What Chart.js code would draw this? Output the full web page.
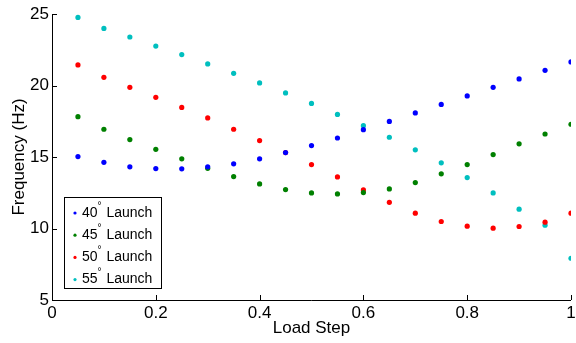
<!DOCTYPE html>
<html lang="en">
<head>
  <meta charset="UTF-8">
  <title>Frequency vs Load Step</title>
  <script src="https://cdn.jsdelivr.net/npm/chart.js"></script>
  <style>
    html, body { margin: 0; padding: 0; background: #fff; }
    #wrap { width: 576px; height: 343px; position: relative; }
  </style>
</head>
<body>
  <div id="wrap"><canvas id="chart"></canvas></div>

  <script>
    // data
    const loadSteps = [0.05, 0.1, 0.15, 0.2, 0.25, 0.3, 0.35, 0.4, 0.45, 0.5,
                       0.55, 0.6, 0.65, 0.7, 0.75, 0.8, 0.85, 0.9, 0.95, 1.0];
    const launch40 = [15.03, 14.63, 14.31, 14.19, 14.17, 14.31, 14.52, 14.87, 15.31, 15.80,
                      16.33, 16.91, 17.49, 18.08, 18.68, 19.27, 19.87, 20.46, 21.06, 21.65];
    const launch45 = [17.82, 16.94, 16.22, 15.54, 14.87, 14.21, 13.63, 13.12, 12.72, 12.49,
                      12.42, 12.51, 12.77, 13.21, 13.82, 14.47, 15.17, 15.92, 16.61, 17.29];
    const launch50 = [21.44, 20.57, 19.87, 19.17, 18.47, 17.73, 16.94, 16.15, 15.31, 14.47,
                      13.61, 12.70, 11.83, 11.07, 10.49, 10.16, 10.02, 10.14, 10.44, 11.07];
    const launch55 = [24.76, 23.99, 23.39, 22.76, 22.16, 21.51, 20.85, 20.18, 19.48, 18.75,
                      17.98, 17.19, 16.38, 15.50, 14.59, 13.56, 12.49, 11.35, 10.23, 7.92];
    const angles = ['40', '45', '50', '55'];
    const colors = ['#0000ff', '#008000', '#ff0000', '#00bfbf'];
    const xTicks = [0, 0.2, 0.4, 0.6, 0.8, 1];
    const yTicks = [5, 10, 15, 20, 25];

    const FONT = '"Liberation Sans", Arial, sans-serif';

    const series = [launch40, launch45, launch50, launch55];
    const datasets = series.map(function (vals, i) {
      return {
        label: angles[i] + '° Launch',
        data: vals.map(function (v, j) { return { x: loadSteps[j], y: v }; }),
        backgroundColor: colors[i],
        borderColor: colors[i],
        pointRadius: 2.6,
        pointBorderWidth: 0
      };
    });

    // axis lines + inward tick marks, like the original figure
    const axesPlugin = {
      id: 'axes',
      afterDatasetsDraw(chart) {
        const ctx = chart.ctx, a = chart.chartArea;
        const xs = chart.scales.x, ys = chart.scales.y;
        ctx.save();
        ctx.strokeStyle = '#000';
        ctx.lineWidth = 1;
        ctx.beginPath();
        ctx.moveTo(a.left + 0.5, a.top);
        ctx.lineTo(a.left + 0.5, a.bottom + 0.5);
        ctx.lineTo(a.right, a.bottom + 0.5);
        xTicks.forEach(function (t) {
          const px = Math.round(xs.getPixelForValue(t)) + 0.5;
          ctx.moveTo(px, a.bottom);
          ctx.lineTo(px, a.bottom - 5);
        });
        yTicks.forEach(function (t) {
          const py = Math.round(ys.getPixelForValue(t)) + 0.5;
          ctx.moveTo(a.left, py);
          ctx.lineTo(a.left + 5, py);
        });
        ctx.stroke();
        ctx.restore();
      }
    };

    // legend box inside the plot, degree sign as superscript
    const legendPlugin = {
      id: 'boxLegend',
      afterDraw(chart) {
        const ctx = chart.ctx;
        const x0 = 64, y0 = 197, w = 97, h = 91;
        ctx.save();
        ctx.fillStyle = '#fff';
        ctx.fillRect(x0, y0, w, h);
        ctx.strokeStyle = '#000';
        ctx.lineWidth = 1;
        ctx.strokeRect(x0 + 0.5, y0 + 0.5, w, h);
        chart.data.datasets.forEach(function (ds, i) {
          const cy = 213 + i * 22.2;
          ctx.fillStyle = ds.backgroundColor;
          ctx.beginPath();
          ctx.arc(75, cy, 1.6, 0, Math.PI * 2);
          ctx.fill();
          const parts = ds.label.split('°');
          ctx.fillStyle = '#000';
          ctx.textBaseline = 'middle';
          ctx.font = '14px ' + FONT;
          let tx = 82;
          ctx.fillText(parts[0], tx, cy);
          tx += ctx.measureText(parts[0]).width;
          ctx.font = '10px ' + FONT;
          ctx.fillText('°', tx, cy - 7);
          tx += ctx.measureText('°').width + 1;
          ctx.font = '14px ' + FONT;
          ctx.fillText(parts[1], tx, cy);
        });
        ctx.restore();
      }
    };

    new Chart(document.getElementById('chart'), {
      type: 'scatter',
      data: { datasets: datasets },
      options: {
        responsive: true,
        maintainAspectRatio: false,
        animation: false,
        layout: { padding: { top: 14, right: 0, left: 0, bottom: 0 } },
        plugins: { legend: { display: false }, tooltip: { enabled: false } },
        scales: {
          x: {
            type: 'linear',
            min: 0, max: 1,
            afterBuildTicks: function (s) { s.ticks = xTicks.map(function (v) { return { value: v }; }); },
            afterFit: function (s) { s.height = 43; s.paddingRight = 5; s.paddingLeft = 0; },
            grid: { display: false, drawTicks: false },
            border: { display: false },
            ticks: {
              color: '#000', padding: 3,
              font: { family: FONT, size: 17 },
              callback: function (v) { return String(v); }
            },
            title: {
              display: true, text: 'Load Step', color: '#000',
              font: { family: FONT, size: 17 },
              padding: { top: 0, bottom: 4 }
            }
          },
          y: {
            min: 5, max: 25,
            afterBuildTicks: function (s) { s.ticks = yTicks.map(function (v) { return { value: v }; }); },
            afterFit: function (s) { s.width = 52; },
            grid: { display: false, drawTicks: false },
            border: { display: false },
            ticks: {
              color: '#000', padding: 3,
              font: { family: FONT, size: 17 },
              callback: function (v) { return String(v); }
            },
            title: {
              display: true, text: 'Frequency (Hz)', color: '#000',
              font: { family: FONT, size: 17 },
              padding: { top: 9, bottom: 0 }
            }
          }
        }
      },
      plugins: [axesPlugin, legendPlugin]
    });
  </script>
</body>
</html>
